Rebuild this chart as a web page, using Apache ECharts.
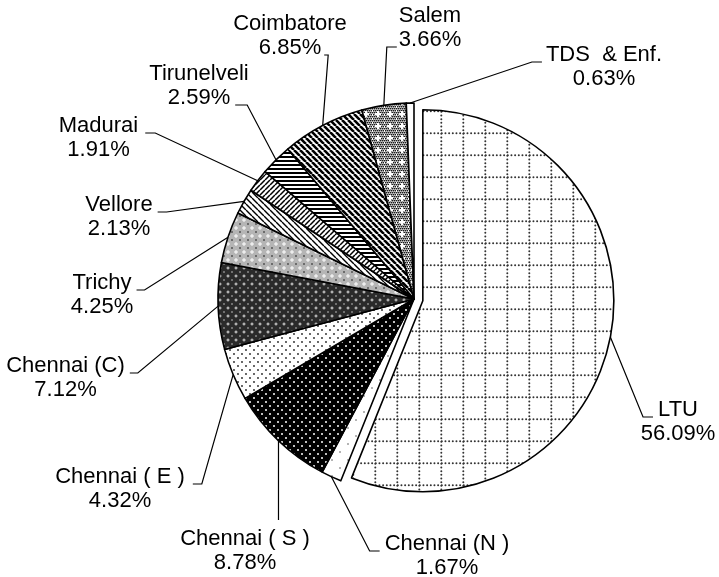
<!DOCTYPE html>
<html><head><meta charset="utf-8">
<script src="https://cdn.jsdelivr.net/npm/echarts@6/dist/echarts.min.js"></script>
<style>html,body{margin:0;padding:0;background:#fff}#c{width:719px;height:577px}</style>
</head><body><div id="c"></div>
<script>
// ---- data ----
const categories = ['LTU', 'Chennai (N )', 'Chennai ( S )', 'Chennai ( E )', 'Chennai (C)', 'Trichy', 'Vellore', 'Madurai', 'Tirunelveli', 'Coimbatore', 'Salem', 'TDS  & Enf.'];
const shares = [56.09, 1.67, 8.78, 4.32, 7.12, 4.25, 2.13, 1.91, 2.59, 6.85, 3.66, 0.63];

// ---- label layout (text centre x, first-line baseline y, leader attach side) ----
const labelPlace = [
  [678, 417, 'L1'], [447, 551, 'L1'], [245, 546, 'T'], [120, 484, 'R1'],
  [65.5, 373, 'R1'], [102, 290, 'R1'], [119, 212, 'R1'], [98.5, 133, 'R1'],
  [199, 81, 'R2'], [290, 31, 'R2'], [430, 23, 'L2'], [604, 62, 'L1']
];
const leaderGap = [5, 5, 0, 8, 5, 5, 5, 7, 5, 3, 2, 4];
const leaderSeg = [10, 10, 0, 9, 8, 8, 9, 10, 12, 4, 10, 10];

const FONT = '"Liberation Sans", Arial, Helvetica, sans-serif';
const FS = 22, LH = 24;
const CX = 414, CY = 299, R = 196, R_LTU = 191, EXPLODE = 9;

// ---- patterns ----
function mk(w, h, draw) {
  const c = document.createElement('canvas'); c.width = w; c.height = h;
  const g = c.getContext('2d'); draw(g, w, h);
  return { image: c, repeat: 'repeat' };
}
function dot(g, x, y, r, col) { g.fillStyle = col; g.beginPath(); g.arc(x, y, r, 0, Math.PI * 2); g.fill(); }
function stripes(g, w, step, lw, dir, bg, fg) {
  g.fillStyle = bg; g.fillRect(0, 0, w, w);
  g.strokeStyle = fg; g.lineWidth = lw; g.beginPath();
  for (let k = -2; k <= 2; k++) {
    if (dir === 'back') { g.moveTo(k * step, 0); g.lineTo(k * step + w, w); }
    else if (dir === 'fwd') { g.moveTo(k * step, w); g.lineTo(k * step + w, 0); }
  }
  g.stroke();
}
const patterns = [
  mk(22, 22, (g) => { g.fillStyle = '#fff'; g.fillRect(0, 0, 22, 22);
    for (let i = 0; i < 6; i++) { const p = i * 22 / 6; dot(g, p + 1.8, 1.3, 1.0, '#333'); dot(g, 1.3, p + 1.8, 1.0, '#333'); } }),
  mk(16, 16, (g) => { g.fillStyle = '#fff'; g.fillRect(0, 0, 16, 16); dot(g, 4, 4, 0.8, '#555'); dot(g, 12, 12, 0.8, '#555'); }),
  mk(8, 8, (g) => { g.fillStyle = '#000'; g.fillRect(0, 0, 8, 8); dot(g, 2, 2, 1, '#fff'); dot(g, 6, 6, 1, '#fff'); }),
  mk(8, 8, (g) => { g.fillStyle = '#fff'; g.fillRect(0, 0, 8, 8); dot(g, 2, 2, 0.9, '#222'); dot(g, 6, 6, 0.9, '#222'); }),
  mk(8, 8, (g) => { g.fillStyle = '#2a2a2a'; g.fillRect(0, 0, 8, 8);
    g.fillStyle = '#ddd'; g.fillRect(3.5, 2.5, 1, 3); g.fillRect(2.5, 3.5, 3, 1); dot(g, 0, 0, 1, '#888'); dot(g, 8, 8, 1, '#888'); dot(g, 0, 8, 1, '#888'); dot(g, 8, 0, 1, '#888'); }),
  mk(8, 8, (g) => { g.fillStyle = '#b5b5b5'; g.fillRect(0, 0, 8, 8);
    g.fillStyle = '#fff'; g.fillRect(3.5, 2, 1, 4); g.fillRect(2, 3.5, 4, 1); dot(g, 0, 0, 1, '#555'); dot(g, 8, 8, 1, '#555'); dot(g, 0, 8, 1, '#555'); dot(g, 8, 0, 1, '#555'); }),
  mk(6, 6, (g) => stripes(g, 6, 6, 1.4, 'back', '#fff', '#000')),
  mk(5, 5, (g) => stripes(g, 5, 5, 1.5, 'fwd', '#fff', '#000')),
  mk(4, 4, (g) => { g.fillStyle = '#fff'; g.fillRect(0, 0, 4, 4); g.fillStyle = '#000'; g.fillRect(0, 0, 4, 2); }),
  mk(6, 6, (g) => stripes(g, 6, 6, 2.6, 'back', '#fff', '#000')),
  mk(12, 12, (g) => { g.fillStyle = '#fff'; g.fillRect(0, 0, 12, 12);
    for (let y = 0; y < 12; y += 2) for (let x = (y / 2) % 2; x < 12; x += 2) { g.fillStyle = '#1a1a1a'; g.fillRect(x, y, 1.5, 1.5); }
    g.fillStyle = '#fff'; g.fillRect(5, 3, 2, 6); g.fillRect(3, 5, 6, 2); }),
  '#ffffff'
];

// ---- helpers ----
const mctx = document.createElement('canvas').getContext('2d');
mctx.font = FS + 'px ' + FONT;
const tw = (s) => mctx.measureText(s).width;
const pctText = (v) => v.toFixed(2) + '%';
const total = shares.reduce((a, b) => a + b, 0);

function edgePoint(i, cx, cy, r) {
  let before = 0; for (let k = 0; k < i; k++) before += shares[k];
  const a = (before + shares[i] / 2) / total * Math.PI * 2;
  return [cx + r * Math.sin(a), cy - r * Math.cos(a)];
}
const ltuMid = shares[0] / 2 / total * Math.PI * 2;
const CX2 = CX + EXPLODE * Math.sin(ltuMid), CY2 = CY - EXPLODE * Math.cos(ltuMid);

function layoutFor(seriesR, scx, scy) {
  return function (params) {
    const i = params.dataIndex;
    const [x, b1, side] = labelPlace[i];
    const name = categories[i], pct = pctText(shares[i]);
    let p0 = (params.labelLinePoints && params.labelLinePoints[0]) ? params.labelLinePoints[0].slice() : edgePoint(i, scx, scy, seriesR);
    const gap = leaderGap[i], seg = leaderSeg[i];
    let end, elbow;
    if (side === 'L1') { end = [x - tw(name) / 2 - gap, b1]; elbow = [end[0] - seg, b1]; }
    else if (side === 'R1') { end = [x + tw(name) / 2 + gap, b1]; elbow = [end[0] + seg, b1]; }
    else if (side === 'L2') { end = [x - tw(pct) / 2 - gap, b1 + LH]; elbow = [end[0] - seg, b1 + LH]; }
    else if (side === 'R2') { end = [x + tw(pct) / 2 + gap, b1 + LH]; elbow = [end[0] + seg, b1 + LH]; }
    else { end = [p0[0], b1 - 26]; elbow = end.slice(); }
    return {
      x: x, y: b1 + LH / 2 - 6.8,
      align: 'center', verticalAlign: 'middle',
      labelLinePoints: [p0, elbow, end]
    };
  };
}

const baseLabel = {
  show: true, position: 'outside', color: '#000', fontFamily: FONT, fontSize: FS, lineHeight: LH,
  formatter: (p) => p.name + '\n' + pctText(p.value)
};
const baseLine = { show: true, length: 10, length2: 10, lineStyle: { color: '#000', width: 1.2 } };
const hidden = { color: 'rgba(0,0,0,0)', borderWidth: 0 };

const mainData = categories.map((n, i) => ({
  name: n, value: shares[i],
  itemStyle: i === 0 ? hidden : { color: patterns[i] },
  label: { show: i !== 0 }, labelLine: { show: i !== 0 }
}));
const ltuData = categories.map((n, i) => ({
  name: n, value: shares[i],
  itemStyle: i === 0 ? { color: patterns[0] } : hidden,
  label: { show: i === 0 }, labelLine: { show: i === 0 }
}));

const common = {
  type: 'pie', startAngle: 90, clockwise: true, silent: true, animation: false,
  avoidLabelOverlap: false, minShowLabelAngle: 0,
  itemStyle: { borderColor: '#000', borderWidth: 1.6 },
  label: baseLabel, labelLine: baseLine,
  emphasis: { disabled: true }
};

const chart = echarts.init(document.getElementById('c'), null, { renderer: 'canvas' });
chart.setOption({
  backgroundColor: '#fff',
  animation: false,
  series: [
    Object.assign({}, common, { center: [CX, CY], radius: [0, R], data: mainData, labelLayout: layoutFor(R, CX, CY) }),
    Object.assign({}, common, { center: [CX2, CY2], radius: [0, R_LTU], data: ltuData, labelLayout: layoutFor(R_LTU, CX2, CY2) })
  ]
});
</script></body></html>
